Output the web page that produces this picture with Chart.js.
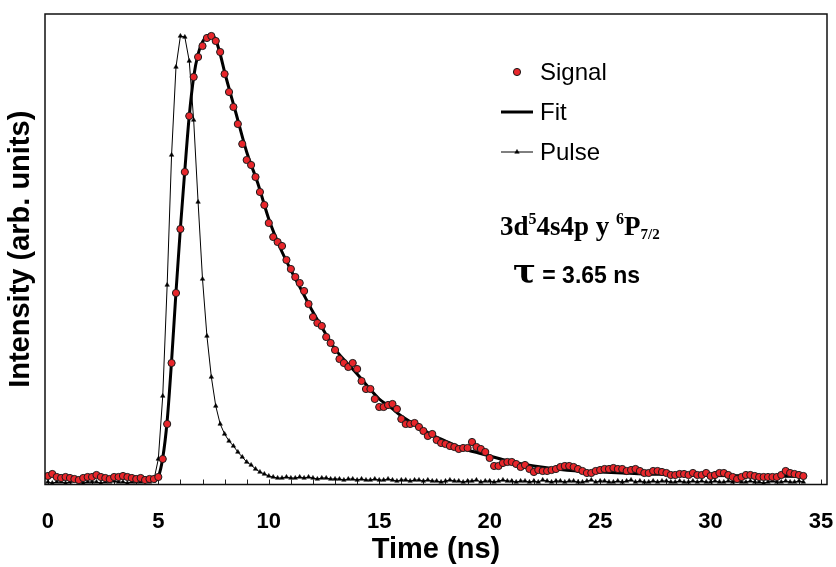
<!DOCTYPE html>
<html>
<head>
<meta charset="utf-8">
<script src="https://cdn.jsdelivr.net/npm/chart.js@4.4.0/dist/chart.umd.min.js"></script>
<style>
  html, body { margin: 0; padding: 0; background: #fff; }
  #wrap { width: 836px; height: 567px; }
</style>
</head>
<body>
<div id="wrap"><canvas id="c" width="836" height="567"></canvas></div>
<script>
// intensity (arb. units, peak ~450), one sample every 0.2 ns from t = 0
const SIGNAL = [
  10, 12, 9, 8, 9, 8, 7, 6, 8, 9, 9, 11, 9, 8, 7, 9, 9, 10, 9, 8, 7, 8, 6, 7, 7,
  9, 27, 62, 123, 193, 257, 314, 370, 409, 429,
  440, 448, 450, 445, 434, 412, 394, 379, 362, 342,
  326, 321, 309, 294, 281, 263, 249, 244, 240, 226,
  217, 209, 203, 195, 182, 169, 163, 160, 149, 143,
  136, 127, 123, 119, 123, 117, 105, 97, 97, 87,
  79, 79, 81, 82, 77, 67, 62, 62, 63, 59,
  55, 50, 52, 46, 43, 42, 40, 39, 37, 38,
  38, 44, 39, 37, 34, 28, 20, 20, 23, 24,
  24, 22, 19, 21, 17, 14, 16, 15, 15,
  16, 17, 19, 20, 20, 19, 17, 15, 13, 13,
  15, 16, 17, 17, 18, 17, 17, 15, 16, 17,
  15, 13, 13, 15, 15, 14, 13, 11, 11, 12,
  12, 11, 13, 11, 11, 13, 10, 11, 13, 13,
  11, 9, 7, 9, 11, 11, 10, 9, 9, 9,
  9, 9, 11, 15, 13, 12, 11, 10
];
const PULSE = [
  4, 3, 4, 4, 3, 4, 5, 4, 3, 4, 4, 4, 3, 4, 4, 5, 4, 4, 3, 4, 4, 4, 5, 4,
  6,
  27, 90, 201, 331, 419, 450, 449, 425, 366, 284,
  207, 150, 109, 80, 62, 52, 45, 40, 34, 29,
  24, 21, 17, 14, 12, 10, 9, 8,
  8, 9, 8, 8, 9, 8, 9, 8, 7, 8, 8, 7,
  7, 7, 6, 7, 7, 6, 7, 6, 6, 7, 6, 6, 7, 6, 5, 6, 6, 5, 6, 6,
  5, 6, 5, 5, 4, 5, 6, 5, 5, 4, 5, 5, 6, 4, 5, 5, 4, 5, 6, 5,
  5, 4, 5, 5, 4, 5, 4, 6, 5, 4, 5, 5, 4, 5, 5, 4, 4, 5, 6, 4,
  5, 5, 4, 4, 5, 4, 5, 6, 4, 5, 4, 4, 5, 4, 5, 5, 4, 4, 5, 4,
  4, 5, 4, 5, 4, 4, 5, 4, 4, 5, 4, 5, 4, 4, 5, 4, 4, 3, 4, 5,
  4, 4, 5, 4, 4, 5, 4
];
const FIT_T = [
  4.8, 5.0, 5.2, 5.4, 5.6, 5.8, 6.0, 6.2, 6.4, 6.6, 6.8, 7.0, 7.2, 7.4, 7.6, 7.8, 8.0,
  8.5, 9, 9.5, 10, 10.5, 11, 11.5, 12, 12.5, 13, 13.5, 14, 14.5, 15, 15.5, 16, 16.5,
  17, 17.5, 18, 18.5, 19, 19.5, 20, 20.5, 21, 21.5, 22,
  23, 24, 25, 26, 27, 28, 30, 32, 34.2
];
const FIT_V = [
  4, 9, 28, 65, 125, 194, 258, 316, 370, 409, 432, 444, 450, 451, 446, 432, 414,
  374, 334, 303, 267, 239, 216, 195, 174, 155, 137, 124, 112, 99, 87, 79, 70, 63,
  56, 50, 45, 40, 36, 33, 30, 27, 24, 22, 20,
  17, 15, 14, 13, 12, 11.5, 10.5, 10, 9.5
];
const DT = 0.2;
const TIME = SIGNAL.map((_, i) => +(i * DT).toFixed(1));
const LABELS = ['Signal', 'Fit', 'Pulse'];

const RED = '#e8262b', INK = '#000';
const SANS = '"Liberation Sans", Arial, sans-serif';
const SERIF = '"Liberation Serif", "Times New Roman", serif';

const pts = (xs, ys) => ys.map((y, i) => ({ x: xs[i], y }));

const frame = {
    id: 'frame',
    beforeDatasetsDraw(chart) {
        const { ctx, chartArea: a, scales: { x } } = chart;
        ctx.save();
        ctx.strokeStyle = '#222'; ctx.lineWidth = 1;
        x.ticks.forEach(t => {
            const px = Math.round(x.getPixelForValue(t.value)) + 0.5;
            ctx.beginPath(); ctx.moveTo(px, a.bottom); ctx.lineTo(px, a.bottom - 5); ctx.stroke();
        });
        ctx.restore();
    },
    afterDatasetsDraw(chart) {
        const { ctx, chartArea: a } = chart;
        ctx.save();
        ctx.strokeStyle = '#111'; ctx.lineWidth = 1.5;
        ctx.strokeRect(a.left, a.top, a.right - a.left, a.bottom - a.top);
        ctx.restore();
    },
};

// legend sits inside the plot, like the original
const legendBox = {
    id: 'legendBox',
    afterDraw(chart, _, o) {
        const { ctx } = chart;
        ctx.save();
        chart.data.datasets.forEach((ds, i) => {
            const y = o.y + i * o.row;
            if (ds.showLine !== false) {
                ctx.strokeStyle = ds.borderColor; ctx.lineWidth = ds.borderWidth;
                ctx.beginPath(); ctx.moveTo(o.x - o.half, y); ctx.lineTo(o.x + o.half, y); ctx.stroke();
            }
            if (ds.pointRadius) {
                ctx.fillStyle = ds.pointBackgroundColor; ctx.strokeStyle = ds.pointBorderColor;
                ctx.lineWidth = ds.pointBorderWidth;
                Chart.helpers.drawPoint(ctx, { pointStyle: ds.pointStyle, radius: ds.pointRadius, borderWidth: ds.pointBorderWidth, rotation: 0 }, o.x, y);
            }
            ctx.fillStyle = INK; ctx.font = o.font; ctx.textBaseline = 'middle';
            ctx.fillText(ds.label, o.textX, y + 1);
        });
        ctx.restore();
    },
};

const notes = {
    id: 'notes',
    afterDraw(chart, _, o) {
        const { ctx } = chart;
        ctx.save();
        ctx.fillStyle = INK; ctx.textBaseline = 'alphabetic';
        o.lines.forEach(line => {
            let x = line.x;
            line.runs.forEach(([txt, font, dy]) => {
                ctx.font = font;
                ctx.fillText(txt, x, line.y + dy);
                x += ctx.measureText(txt).width;
            });
        });
        ctx.restore();
    },
};

new Chart(document.getElementById('c'), {
    type: 'line',
    data: {
        datasets: [
            { label: LABELS[0], data: pts(TIME, SIGNAL), showLine: false, pointStyle: 'circle', pointRadius: 3.6, pointBackgroundColor: RED, pointBorderColor: '#1a1a1a', pointBorderWidth: 1, borderColor: RED },
            { label: LABELS[1], data: pts(FIT_T, FIT_V), borderColor: INK, borderWidth: 3, pointRadius: 0, cubicInterpolationMode: 'monotone' },
            { label: LABELS[2], data: pts(TIME, PULSE), borderColor: INK, borderWidth: 1, pointStyle: 'triangle', pointRadius: 2.6, pointBackgroundColor: INK, pointBorderColor: INK, pointBorderWidth: 0.5 },
        ],
    },
    options: {
        responsive: false,
        animation: false,
        events: [],
        layout: { autoPadding: false, padding: { top: 14, right: 9, left: 0, bottom: 0 } },
        plugins: {
            legend: { display: false },
            tooltip: { enabled: false },
            legendBox: { x: 517, half: 16, textX: 540, y: 72, row: 40, font: `24px ${SANS}` },
            notes: {
                lines: [
                    { x: 500, y: 235, runs: [['3d', `bold 27px ${SERIF}`, 0], ['5', `bold 16px ${SERIF}`, -11], ['4s4p y ', `bold 27px ${SERIF}`, 0], ['6', `bold 16px ${SERIF}`, -11], ['P', `bold 27px ${SERIF}`, 0], ['7/2', `bold 15px ${SERIF}`, 4]] },
                    { x: 513, y: 283, runs: [['τ', `bold 34px "DejaVu Serif", serif`, 0], [' = 3.65 ns', `bold 23px ${SANS}`, 0]] },
                ],
            },
        },
        scales: {
            x: {
                type: 'linear', min: -0.13, max: 35.27,
                afterFit: s => { s.height = 82.5; s.paddingLeft = 0; s.paddingRight = 0; },
                grid: { display: false },
                border: { display: false },
                ticks: {
                    stepSize: 1, autoSkip: false, includeBounds: false, maxRotation: 0, padding: 16,
                    color: INK, font: { family: SANS, size: 22, weight: 'bold' },
                    callback: v => (Math.abs(v % 5) < 1e-6 ? v : ''),
                },
                title: { display: true, text: 'Time (ns)', color: INK, font: { family: SANS, size: 29, weight: 'bold' }, padding: { top: 0, bottom: 0 } },
            },
            y: {
                min: 1.5, max: 472,
                afterFit: s => { s.width = 45; s.paddingTop = 0; s.paddingBottom = 0; },
                grid: { display: false },
                border: { display: false },
                ticks: { display: false },
                title: { display: true, text: 'Intensity (arb. units)', color: INK, font: { family: SANS, size: 29, weight: 'bold' }, padding: { top: 4, bottom: 0 } },
            },
        },
    },
    plugins: [frame, legendBox, notes],
});
</script>
</body>
</html>
